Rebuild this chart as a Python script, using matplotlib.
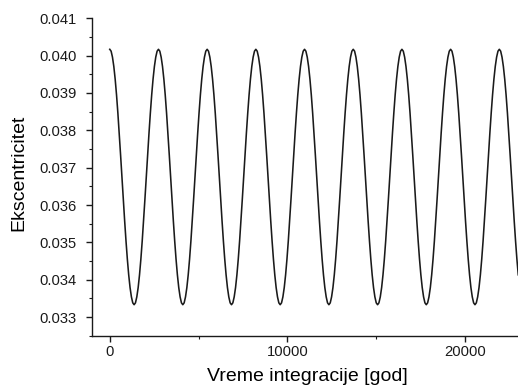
import numpy as np
import matplotlib.pyplot as plt
from matplotlib.ticker import MultipleLocator

plt.rcParams["font.family"] = ["Liberation Sans", "DejaVu Sans"]

# vreme integracije: izlaz integratora sa korakom od ~76.1 god
korak = 76.14
ekscentricitet = [
    # 1
    0.04017, 0.04012, 0.03996, 0.03971, 0.03937, 0.03895, 0.03846, 0.03792, 0.03734, 0.03675, 0.03616, 0.03558,
    0.03504, 0.03455, 0.03413, 0.03379, 0.03354, 0.03338, 0.03333, 0.03338, 0.03354, 0.03379, 0.03413, 0.03455,
    0.03504, 0.03558, 0.03616, 0.03675, 0.03734, 0.03792, 0.03846, 0.03895, 0.03937, 0.03971, 0.03996, 0.04012,
    # 2
    0.04017, 0.04012, 0.03996, 0.03971, 0.03937, 0.03895, 0.03846, 0.03792, 0.03734, 0.03675, 0.03616, 0.03558,
    0.03504, 0.03455, 0.03413, 0.03379, 0.03354, 0.03338, 0.03333, 0.03338, 0.03354, 0.03379, 0.03413, 0.03455,
    0.03504, 0.03558, 0.03616, 0.03675, 0.03734, 0.03792, 0.03846, 0.03895, 0.03937, 0.03971, 0.03996, 0.04012,
    # 3
    0.04017, 0.04012, 0.03996, 0.03971, 0.03937, 0.03895, 0.03846, 0.03792, 0.03734, 0.03675, 0.03616, 0.03558,
    0.03504, 0.03455, 0.03413, 0.03379, 0.03354, 0.03338, 0.03333, 0.03338, 0.03354, 0.03379, 0.03413, 0.03455,
    0.03504, 0.03558, 0.03616, 0.03675, 0.03734, 0.03792, 0.03846, 0.03895, 0.03937, 0.03971, 0.03996, 0.04012,
    # 4
    0.04017, 0.04012, 0.03996, 0.03971, 0.03937, 0.03895, 0.03846, 0.03792, 0.03734, 0.03675, 0.03616, 0.03558,
    0.03504, 0.03455, 0.03413, 0.03379, 0.03354, 0.03338, 0.03333, 0.03338, 0.03354, 0.03379, 0.03413, 0.03455,
    0.03504, 0.03558, 0.03616, 0.03675, 0.03734, 0.03792, 0.03846, 0.03895, 0.03937, 0.03971, 0.03996, 0.04012,
    # 5
    0.04017, 0.04012, 0.03996, 0.03971, 0.03937, 0.03895, 0.03846, 0.03792, 0.03734, 0.03675, 0.03616, 0.03558,
    0.03504, 0.03455, 0.03413, 0.03379, 0.03354, 0.03338, 0.03333, 0.03338, 0.03354, 0.03379, 0.03413, 0.03455,
    0.03504, 0.03558, 0.03616, 0.03675, 0.03734, 0.03792, 0.03846, 0.03895, 0.03937, 0.03971, 0.03996, 0.04012,
    # 6
    0.04017, 0.04012, 0.03996, 0.03971, 0.03937, 0.03895, 0.03846, 0.03792, 0.03734, 0.03675, 0.03616, 0.03558,
    0.03504, 0.03455, 0.03413, 0.03379, 0.03354, 0.03338, 0.03333, 0.03338, 0.03354, 0.03379, 0.03413, 0.03455,
    0.03504, 0.03558, 0.03616, 0.03675, 0.03734, 0.03792, 0.03846, 0.03895, 0.03937, 0.03971, 0.03996, 0.04012,
    # 7
    0.04017, 0.04012, 0.03996, 0.03971, 0.03937, 0.03895, 0.03846, 0.03792, 0.03734, 0.03675, 0.03616, 0.03558,
    0.03504, 0.03455, 0.03413, 0.03379, 0.03354, 0.03338, 0.03333, 0.03338, 0.03354, 0.03379, 0.03413, 0.03455,
    0.03504, 0.03558, 0.03616, 0.03675, 0.03734, 0.03792, 0.03846, 0.03895, 0.03937, 0.03971, 0.03996, 0.04012,
    # 8
    0.04017, 0.04012, 0.03996, 0.03971, 0.03937, 0.03895, 0.03846, 0.03792, 0.03734, 0.03675, 0.03616, 0.03558,
    0.03504, 0.03455, 0.03413, 0.03379, 0.03354, 0.03338, 0.03333, 0.03338, 0.03354, 0.03379, 0.03413, 0.03455,
    0.03504, 0.03558, 0.03616, 0.03675, 0.03734, 0.03792, 0.03846, 0.03895, 0.03937, 0.03971, 0.03996, 0.04012,
    # 9 (do kraja integracije)
    0.04017, 0.04012, 0.03996, 0.03971, 0.03937, 0.03895, 0.03846, 0.03792, 0.03734, 0.03675, 0.03616, 0.03558,
    0.03504, 0.03455, 0.03413,
]
vreme = np.arange(len(ekscentricitet)) * korak

fig = plt.figure(figsize=(5.18, 3.88), dpi=100)
ax = fig.add_axes([0.1776, 0.1348, 0.8224, 0.818])

ax.plot(vreme, ekscentricitet, color="#1a1a1a", linewidth=1.15)

ax.set_xlim(-1000, 22980)
ax.set_ylim(0.0325, 0.041)
ax.set_xticks([0, 10000, 20000])
ax.xaxis.set_minor_locator(MultipleLocator(5000))
ax.yaxis.set_major_locator(MultipleLocator(0.001))
ax.yaxis.set_minor_locator(MultipleLocator(0.0005))
ax.yaxis.set_major_formatter(plt.FormatStrFormatter("%.3f"))

for s in ["top", "right"]:
    ax.spines[s].set_visible(False)
for s in ["left", "bottom"]:
    ax.spines[s].set_linewidth(1.0)
    ax.spines[s].set_color("#1a1a1a")

ax.tick_params(axis="both", which="major", direction="out", length=4.3, width=1.0,
               labelsize=10.6, colors="#1a1a1a")
ax.tick_params(axis="both", which="minor", direction="out", length=2, width=0.8,
               colors="#1a1a1a")
ax.tick_params(axis="y", which="major", pad=7)
ax.tick_params(axis="x", which="major", pad=2.5)

ax.set_xlabel("Vreme integracije [god]", fontsize=14)
ax.set_ylabel("Ekscentricitet", fontsize=14)
ax.xaxis.set_label_coords(0.506, -0.102)
ax.yaxis.set_label_coords(-0.1526, 0.5126)

fig.savefig("out.png", dpi=100)
